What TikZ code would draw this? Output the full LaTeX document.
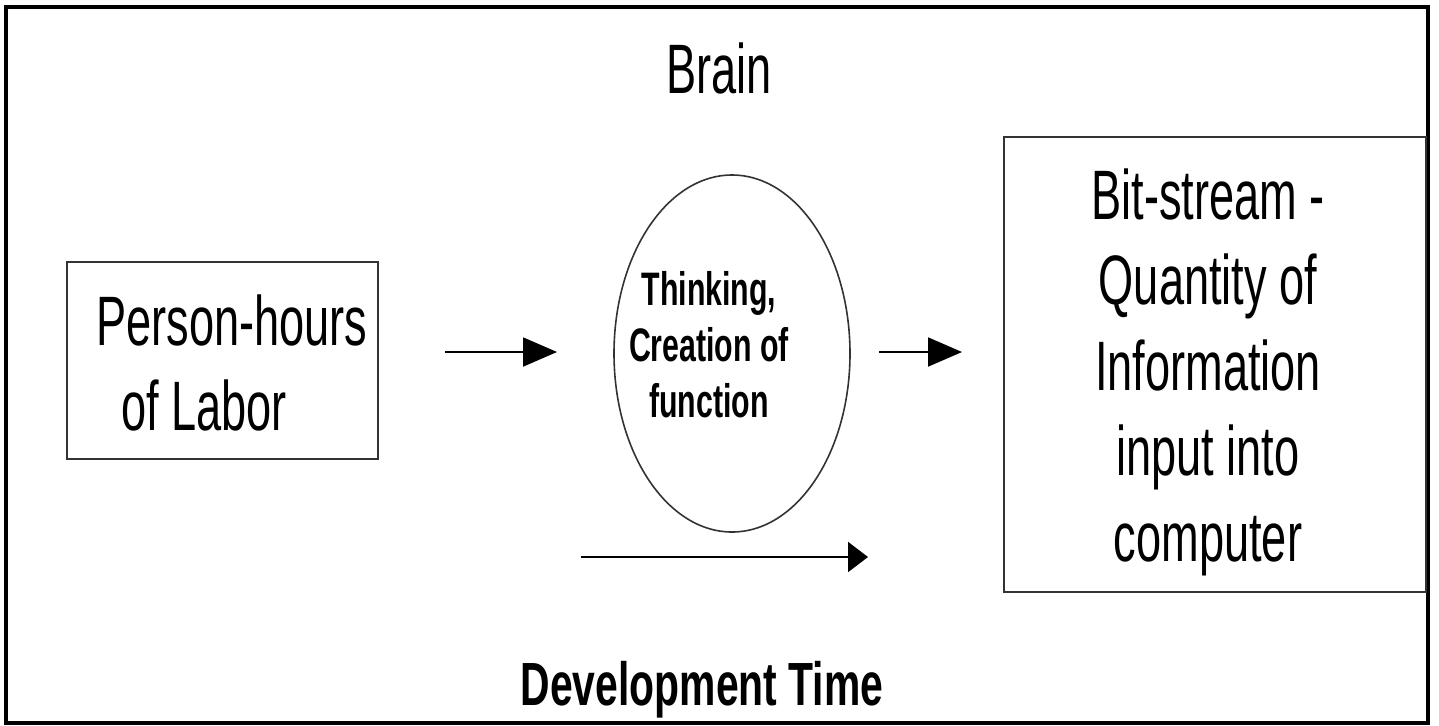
\documentclass[tikz,border=0pt]{standalone}
\usepackage{fontspec}
\setmainfont[FakeStretch=0.645]{Liberation Sans}
\newfontfamily\devfont[FakeStretch=0.67]{Liberation Sans}
\usetikzlibrary{arrows.meta}

\begin{document}
\begin{tikzpicture}[x=0.5pt,y=-0.5pt]
			\tikzstyle{es} = [-{Triangle[length=17pt,width=14.5pt]}, line width=1pt]
			\tikzstyle{esl} = [-{Triangle[length=10pt,width=15pt]}, line width=1pt]
			\tikzstyle{big} = [font=\fontsize{35}{42.75}\selectfont, inner sep=0pt]
			\tikzstyle{mid} = [font=\fontsize{23.5}{28}\selectfont\bfseries, inner sep=0pt]
			\useasboundingbox (0,0) rectangle (1439,725);
			\draw [line width=2pt] (5.5,7) rectangle (1428,723);
			\draw [line width=0.8pt, black!80] (67,262) rectangle (378,459);
			\draw [line width=0.8pt, black!80] (732,353.5) ellipse (118 and 178.5);
			\draw [line width=0.8pt, black!80] (1004,137) rectangle (1426,592);
			\node [big, anchor=base] (brain) at (719,93) {Brain};
			\node [big, anchor=north west, align=left] (labor) at (96,294) {Person-hours\\\hspace*{12.5pt}of Labor};
			\node [mid, anchor=north, align=center] (think) at (709,271) {Thinking,\\Creation of\\function};
			\node [big, anchor=north, align=center] (bits) at (1208,168) {Bit-stream -\\Quantity of\\Information\\input into\\computer};
			\node [font=\fontsize{30.5}{36}\selectfont\devfont\bfseries, inner sep=0pt, anchor=base] (devtime) at (702,705) {Development Time};
			\coordinate (v1) at (445,352);
			\coordinate (v2) at (557,352);
			\coordinate (v3) at (879,352);
			\coordinate (v4) at (962,352);
			\coordinate (v5) at (581,557);
			\coordinate (v6) at (868,557);
			\draw [es] (v1) -- (v2);
			\draw [es] (v3) -- (v4);
			\draw [esl] (v5) -- (v6);
		\end{tikzpicture}
\end{document}
